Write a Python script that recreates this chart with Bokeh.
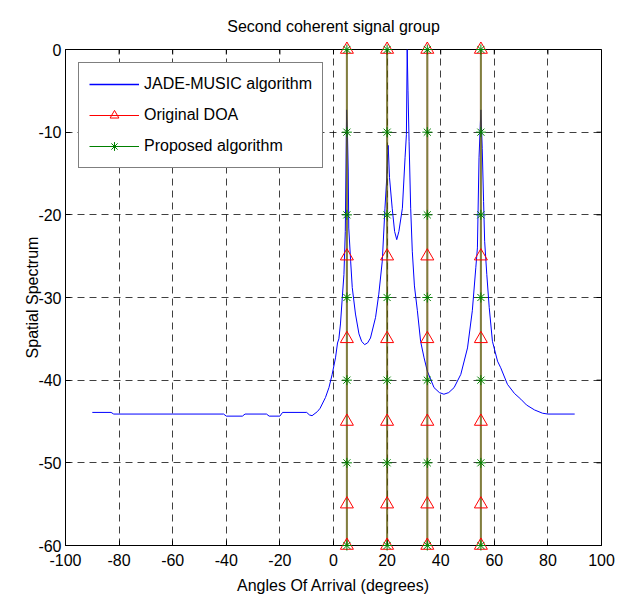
import math
from bokeh.plotting import figure
from bokeh.models import Range1d, Legend, LegendItem, FixedTicker
from bokeh.embed import file_html
from bokeh.resources import INLINE

FONT = "Liberation Sans"

# JADE-MUSIC spatial spectrum
angles = [-90, -83, -82, -60, -41, -40, -34, -33, -25, -24, -20, -19, -10, -9, -8, -6, -5,
          -3, -1.7, -0.5, 0.75, 1.5, 2.0, 2.6, 3.2, 3.9, 4.4, 4.9, 5.2, 5.5, 5.7, 6.4, 7.0,
          8.2, 9.5, 10.5, 11.6, 12.7, 13.8, 15.7, 16.9, 18.2, 19.2, 19.8, 20.4, 20.9, 21.9,
          22.8, 23.6, 24.4, 25.7, 26.7, 27.2, 27.5, 27.8, 28.2, 28.8, 29.4, 30.2, 31.3, 32.5,
          33.8, 35.0, 37.5, 39.5, 41.2, 43.0, 45.0, 47.5, 50.0, 51.8, 53.1, 53.7, 54.3, 55.0,
          55.5, 56.0, 56.4, 57.2, 58.1, 59.3, 61.2, 62.4, 64.9, 67.5, 69.9, 72.0, 75.0, 78.0,
          80.0, 90.0]
spectrum = [-43.9, -43.9, -44.1, -44.1, -44.1, -44.35, -44.35, -44.1, -44.1, -44.35, -44.35,
            -43.9, -43.9, -44.2, -44.3, -43.8, -43.4, -42.1, -40.9, -39.3, -37.3, -35.5, -35.0,
            -33.2, -30.4, -27.2, -22.0, -7.3, -10.0, -14.7, -21.6, -25.6, -28.8, -32.0, -34.4,
            -35.3, -35.7, -35.5, -34.9, -32.4, -29.6, -25.6, -19.2, -15.9, -11.6, -15.5, -19.2,
            -22.0, -23.0, -22.0, -19.2, -13.1, -10.3, 0.0, -5.0, -11.1, -19.2, -24.4, -28.6,
            -31.6, -35.3, -37.3, -38.9, -40.9, -41.5, -41.7, -41.5, -40.9, -39.3, -36.1, -31.6,
            -26.4, -24.0, -13.1, -7.3, -12.0, -18.4, -23.2, -27.2, -31.2, -35.3, -37.7, -38.5,
            -40.5, -41.6, -42.3, -43.0, -43.6, -44.0, -44.1, -44.1]

# Original DOA and proposed algorithm estimates
doa_angles = [5, 20, 35, 55]
doa_levels = [0, -25, -35, -45, -55, -60]
proposed_angles = [5, 20, 35, 55]
proposed_levels = [0, -10, -20, -30, -40, -50, -60]

x_ticks = [-100, -80, -60, -40, -20, 0, 20, 40, 60, 80, 100]
x_tick_labels = ["-100", "-80", "-60", "-40", "-20", "0", "20", "40", "60", "80", "100"]
y_ticks = [-60, -50, -40, -30, -20, -10, 0]
y_tick_labels = ["-60", "-50", "-40", "-30", "-20", "-10", "0"]

p = figure(width=617, height=598, output_backend="svg", toolbar_location=None,
           x_range=Range1d(x_ticks[0], x_ticks[-1]), y_range=Range1d(y_ticks[0], y_ticks[-1]),
           min_border_left=65, min_border_right=16, min_border_top=48, min_border_bottom=53,
           title="Second coherent signal group")
p.title.align = "center"
p.title.text_font = FONT
p.title.text_font_size = "16px"
p.title.text_font_style = "normal"
p.title.text_color = "black"
p.title.standoff = 30

p.outline_line_color = "black"
p.outline_line_width = 1

for ax in (p.xaxis[0], p.yaxis[0]):
    ax.major_label_text_font = FONT
    ax.major_label_text_font_size = "16px"
    ax.major_label_text_color = "black"
    ax.axis_label_text_font = FONT
    ax.axis_label_text_font_size = "16px"
    ax.axis_label_text_font_style = "normal"
    ax.axis_label_text_color = "black"
    ax.major_tick_in = 5
    ax.major_tick_out = 0
    ax.minor_tick_in = 0
    ax.minor_tick_out = 0
    ax.axis_line_color = "black"
    ax.major_tick_line_color = "black"

p.xaxis[0].ticker = FixedTicker(ticks=x_ticks)
p.yaxis[0].ticker = FixedTicker(ticks=y_ticks)
p.xaxis[0].major_label_overrides = {t: s for t, s in zip(x_ticks, x_tick_labels)}
p.yaxis[0].major_label_overrides = {t: s for t, s in zip(y_ticks, y_tick_labels)}
p.xaxis[0].axis_label = "Angles Of Arrival (degrees)"
p.yaxis[0].axis_label = "Spatial Spectrum"
p.xaxis[0].major_label_standoff = 8
p.yaxis[0].major_label_standoff = 4
p.xaxis[0].axis_label_standoff = 8
p.yaxis[0].axis_label_standoff = -6

p.xgrid.ticker = FixedTicker(ticks=x_ticks)
p.ygrid.ticker = FixedTicker(ticks=y_ticks)
for g in (p.xgrid[0], p.ygrid[0]):
    g.grid_line_color = "black"
    g.grid_line_alpha = 0.75
    g.grid_line_dash = "7 5"
    g.grid_line_width = 1

# inward ticks on the top and right edges of the box
p.scatter(x_ticks, [y_ticks[-1]] * len(x_ticks), marker="dash", size=10,
          angle=math.pi / 2, line_color="black", line_width=1)
p.scatter([x_ticks[-1]] * len(y_ticks), y_ticks, marker="dash", size=10,
          line_color="black", line_width=1)

blue = p.line(angles, spectrum, line_color="#0000ff", line_width=1)

red_xs = [[a, a] for a in doa_angles]
red_ys = [[doa_levels[0], doa_levels[-1]] for a in doa_angles]
p.multi_line(red_xs, red_ys, line_color="red", line_width=2, line_alpha=0.5)
green_xs = [[a, a] for a in proposed_angles]
green_ys = [[proposed_levels[0], proposed_levels[-1]] for a in proposed_angles]
p.multi_line(green_xs, green_ys, line_color="green", line_width=2, line_alpha=0.5)

tri_x = [a for a in doa_angles for _ in doa_levels]
tri_y = [l for _ in doa_angles for l in doa_levels]
tri = p.scatter(tri_x, tri_y, marker="triangle", size=13, fill_color=None,
                line_color="red", line_width=1, level="overlay")
star_x = [a for a in proposed_angles for _ in proposed_levels]
star_y = [l for _ in proposed_angles for l in proposed_levels]
star = p.scatter(star_x, star_y, marker="asterisk", size=10, line_color="green",
                 line_width=1, level="overlay")

# legend line samples (single point: nothing drawn in the plot area)
blue_leg = p.line(x=angles[:1], y=spectrum[:1], line_color="#0000ff", line_width=1.3)
red_leg = p.line(x=doa_angles[:1], y=doa_levels[:1], line_color="red", line_width=1)
green_leg = p.line(x=proposed_angles[:1], y=proposed_levels[:1], line_color="green", line_width=1)

legend = Legend(items=[
    LegendItem(label="JADE-MUSIC algorithm", renderers=[blue_leg]),
    LegendItem(label="Original DOA", renderers=[red_leg, tri]),
    LegendItem(label="Proposed algorithm", renderers=[green_leg, star]),
], location="top_left", margin=13)
legend.border_line_color = "black"
legend.border_line_width = 1
legend.background_fill_color = "white"
legend.background_fill_alpha = 1
legend.label_text_font = FONT
legend.label_text_font_size = "16px"
legend.label_text_color = "black"
legend.glyph_width = 50
legend.glyph_height = 22
legend.label_height = 22
legend.spacing = 9
legend.padding = 10
legend.label_standoff = 5
p.add_layout(legend, "center")

open("out.html", "w").write(file_html(p, INLINE))
